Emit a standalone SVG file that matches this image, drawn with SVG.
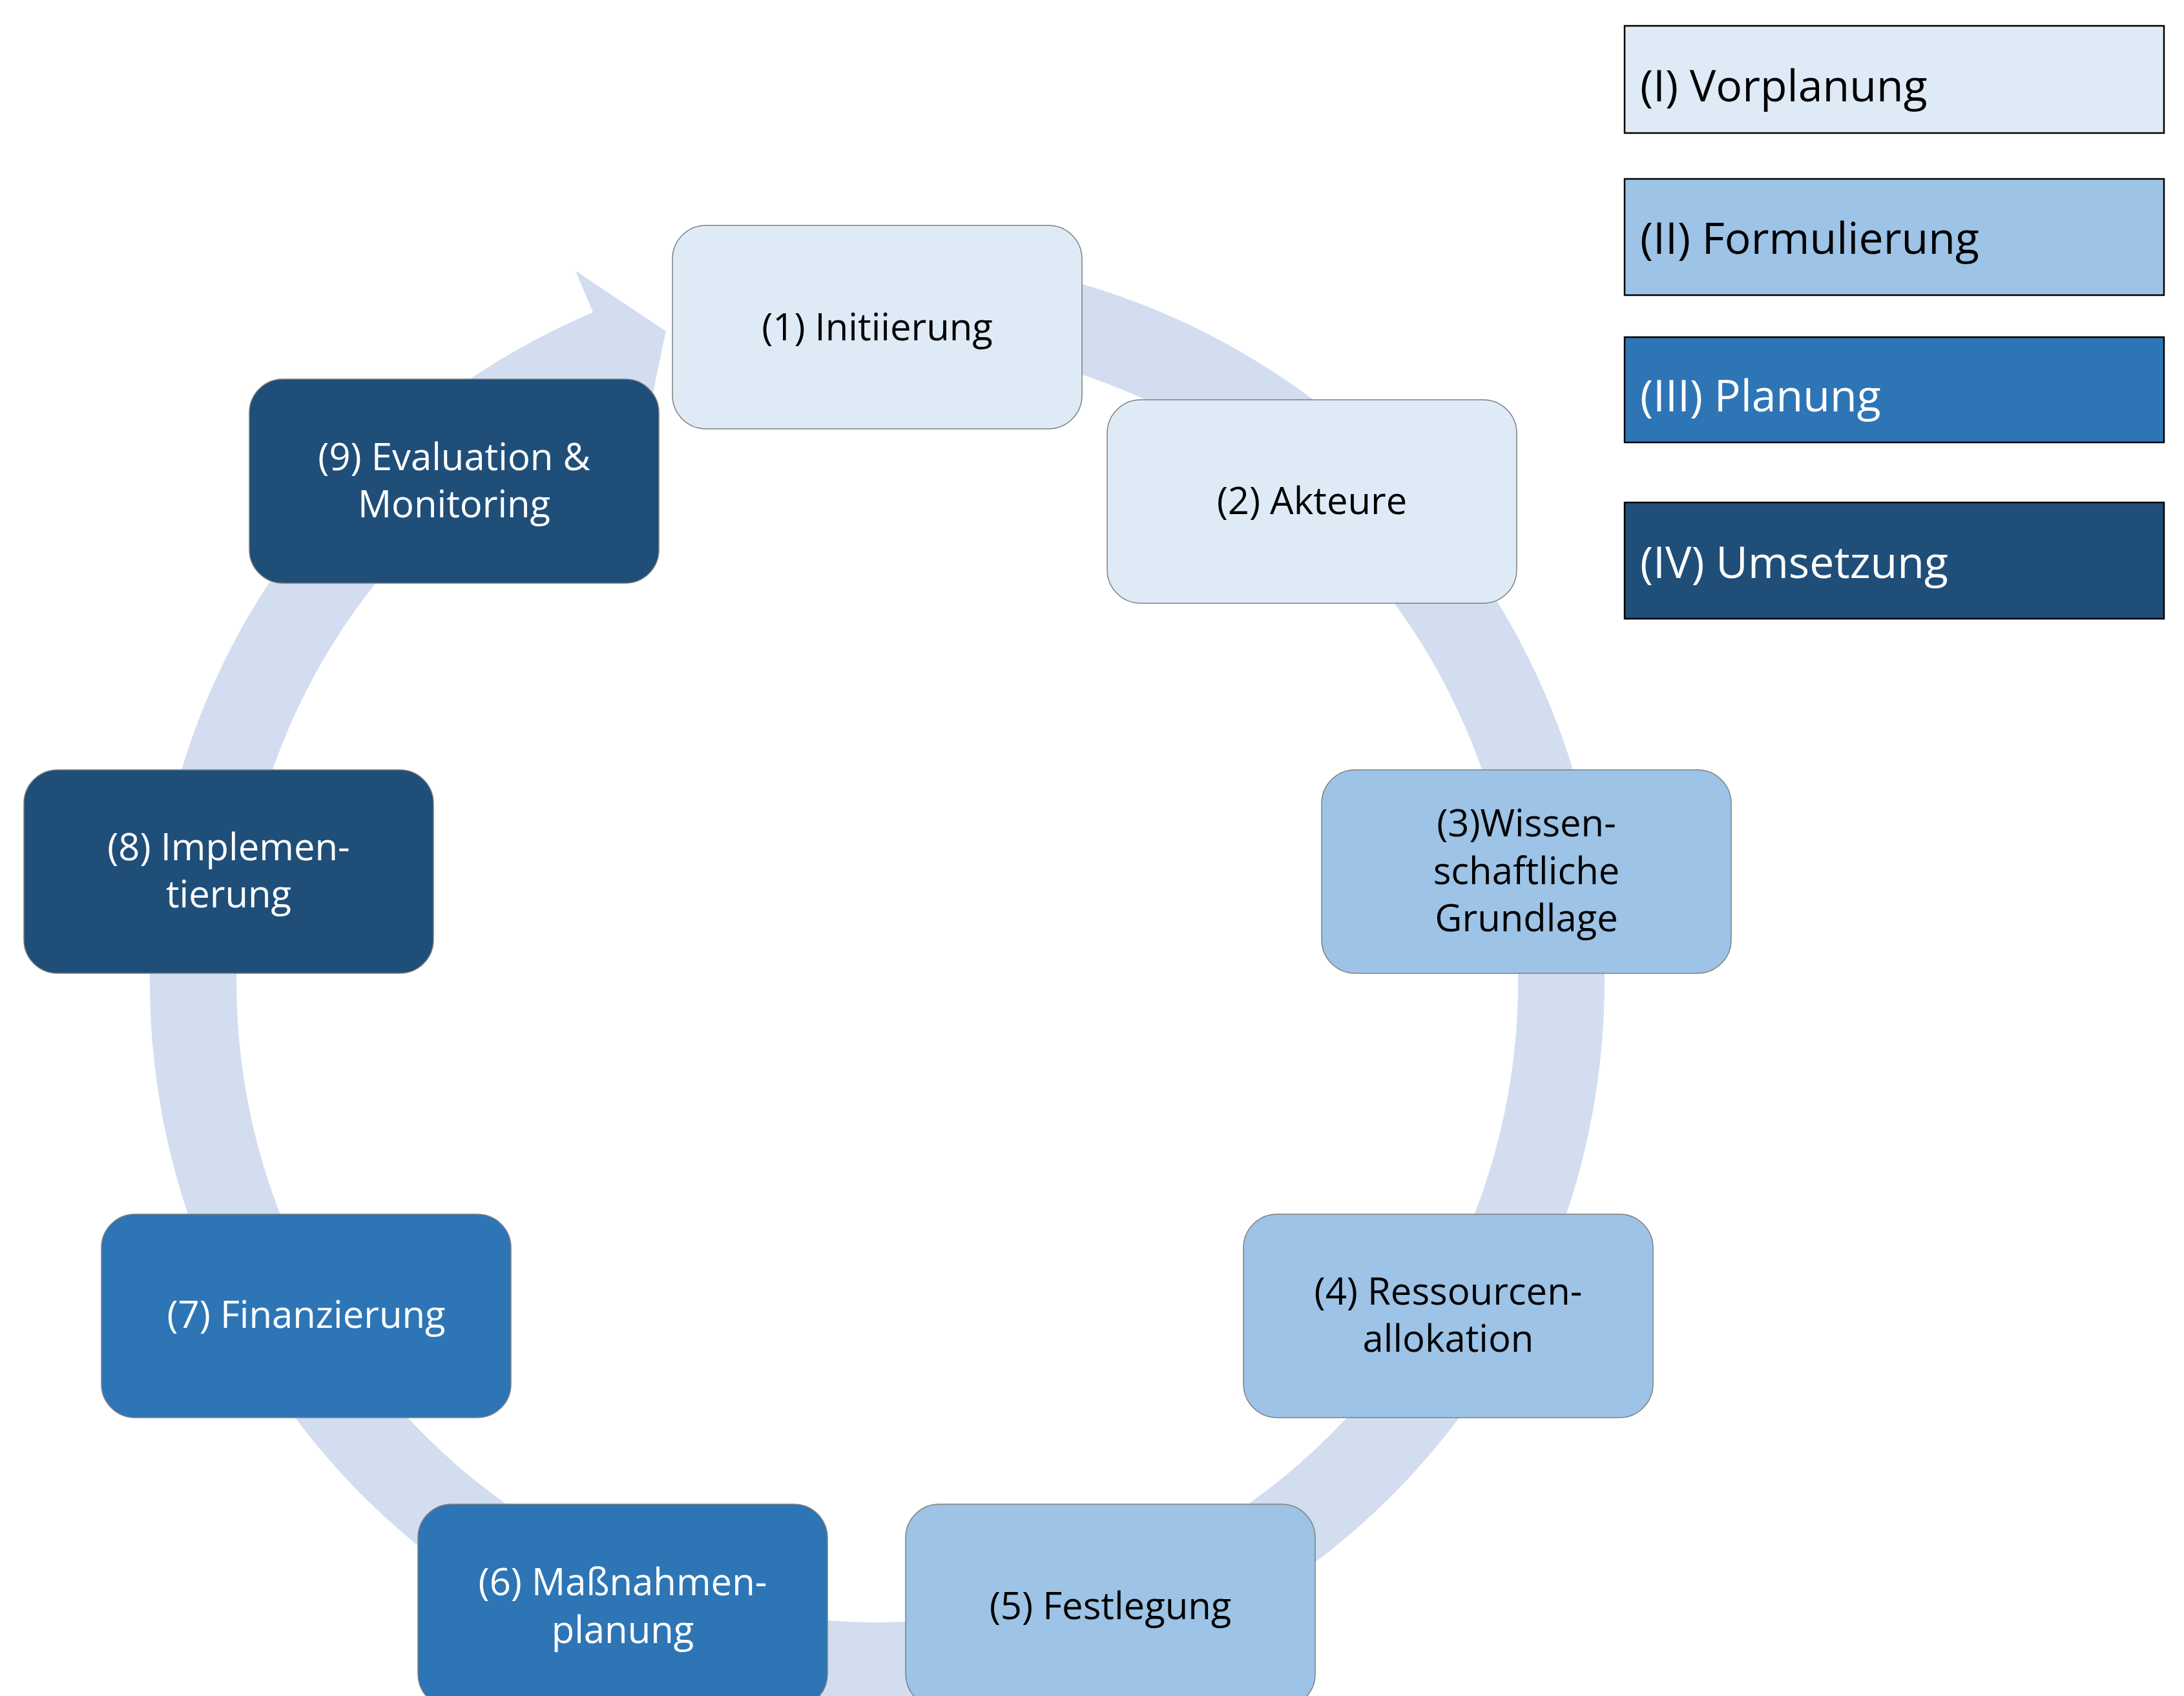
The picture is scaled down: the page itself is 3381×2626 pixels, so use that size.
<svg xmlns="http://www.w3.org/2000/svg" width="3381" height="2626" viewBox="0 0 3381 2626">
  <style>
    .node rect { stroke: #7f7f7f; stroke-width: 1.5; }
    .vor rect { fill: #DEEBF7; }
    .for rect { fill: #9DC3E6; }
    .pla rect { fill: #2E75B6; }
    .ums rect { fill: #1F4E79; }
    text { font-family: "Open Sans", "Noto Sans", sans-serif; }
    .node text { font-size: 58px; text-anchor: middle; }
    .vor text, .for text { fill: #000000; }
    .pla text, .ums text { fill: #FFFFFF; }
    .legend rect { stroke: #000000; stroke-width: 2.5; }
    .legend text { font-size: 68px; }
    .ring { fill: #D2DEEF; stroke: none; }
  </style>
  <rect x="0" y="0" width="3381" height="2626" fill="#FFFFFF"/>

  <g id="connectors">
    <path class="ring" d="M 1358 394 A 1126 1126 0 1 1 918 483.5 L 890.7 419.1 L 1030.8 512.8 L 997.8 671.3 L 970.4 606.9 A 992 992 0 1 0 1358 528 Z"/>
  </g>

  <g id="node1" class="node vor">
    <rect x="1041" y="349" width="634" height="315" rx="52" ry="52"/>
    <text x="1358" y="527">(1) Initiierung</text>
  </g>
  <g id="node2" class="node vor">
    <rect x="1714" y="619" width="634" height="315" rx="52" ry="52"/>
    <text x="2031" y="796">(2) Akteure</text>
  </g>
  <g id="node3" class="node for">
    <rect x="2046" y="1192" width="634" height="315" rx="52" ry="52"/>
    <text x="2363" y="1295">(3)Wissen-</text>
    <text x="2363" y="1369">schaftliche</text>
    <text x="2363" y="1442">Grundlage</text>
  </g>
  <g id="node4" class="node for">
    <rect x="1925" y="1880" width="634" height="315" rx="52" ry="52"/>
    <text x="2242" y="2020">(4) Ressourcen-</text>
    <text x="2242" y="2093">allokation</text>
  </g>
  <g id="node5" class="node for">
    <rect x="1402" y="2329" width="634" height="315" rx="52" ry="52"/>
    <text x="1719" y="2507">(5) Festlegung</text>
  </g>
  <g id="node6" class="node pla">
    <rect x="647" y="2329" width="634" height="315" rx="52" ry="52"/>
    <text x="964" y="2470">(6) Maßnahmen-</text>
    <text x="964" y="2544">planung</text>
  </g>
  <g id="node7" class="node pla">
    <rect x="157" y="1880" width="634" height="315" rx="52" ry="52"/>
    <text x="474" y="2056">(7) Finanzierung</text>
  </g>
  <g id="node8" class="node ums">
    <rect x="37" y="1192" width="634" height="315" rx="52" ry="52"/>
    <text x="354" y="1332">(8) Implemen-</text>
    <text x="354" y="1405">tierung</text>
  </g>
  <g id="node9" class="node ums">
    <rect x="386" y="587" width="634" height="316" rx="52" ry="52"/>
    <text x="703" y="728">(9) Evaluation &amp;</text>
    <text x="703" y="801">Monitoring</text>
  </g>

  <g id="legend-vorplanung" class="legend vor">
    <rect x="2515" y="40" width="835" height="166"/>
    <text x="2539" y="157">(I) Vorplanung</text>
  </g>
  <g id="legend-formulierung" class="legend for">
    <rect x="2515" y="277" width="835" height="180"/>
    <text x="2539" y="393">(II) Formulierung</text>
  </g>
  <g id="legend-planung" class="legend pla">
    <rect x="2515" y="522" width="835" height="163"/>
    <text x="2539" y="637">(III) Planung</text>
  </g>
  <g id="legend-umsetzung" class="legend ums">
    <rect x="2515" y="778" width="835" height="180"/>
    <text x="2539" y="895">(IV) Umsetzung</text>
  </g>
</svg>
